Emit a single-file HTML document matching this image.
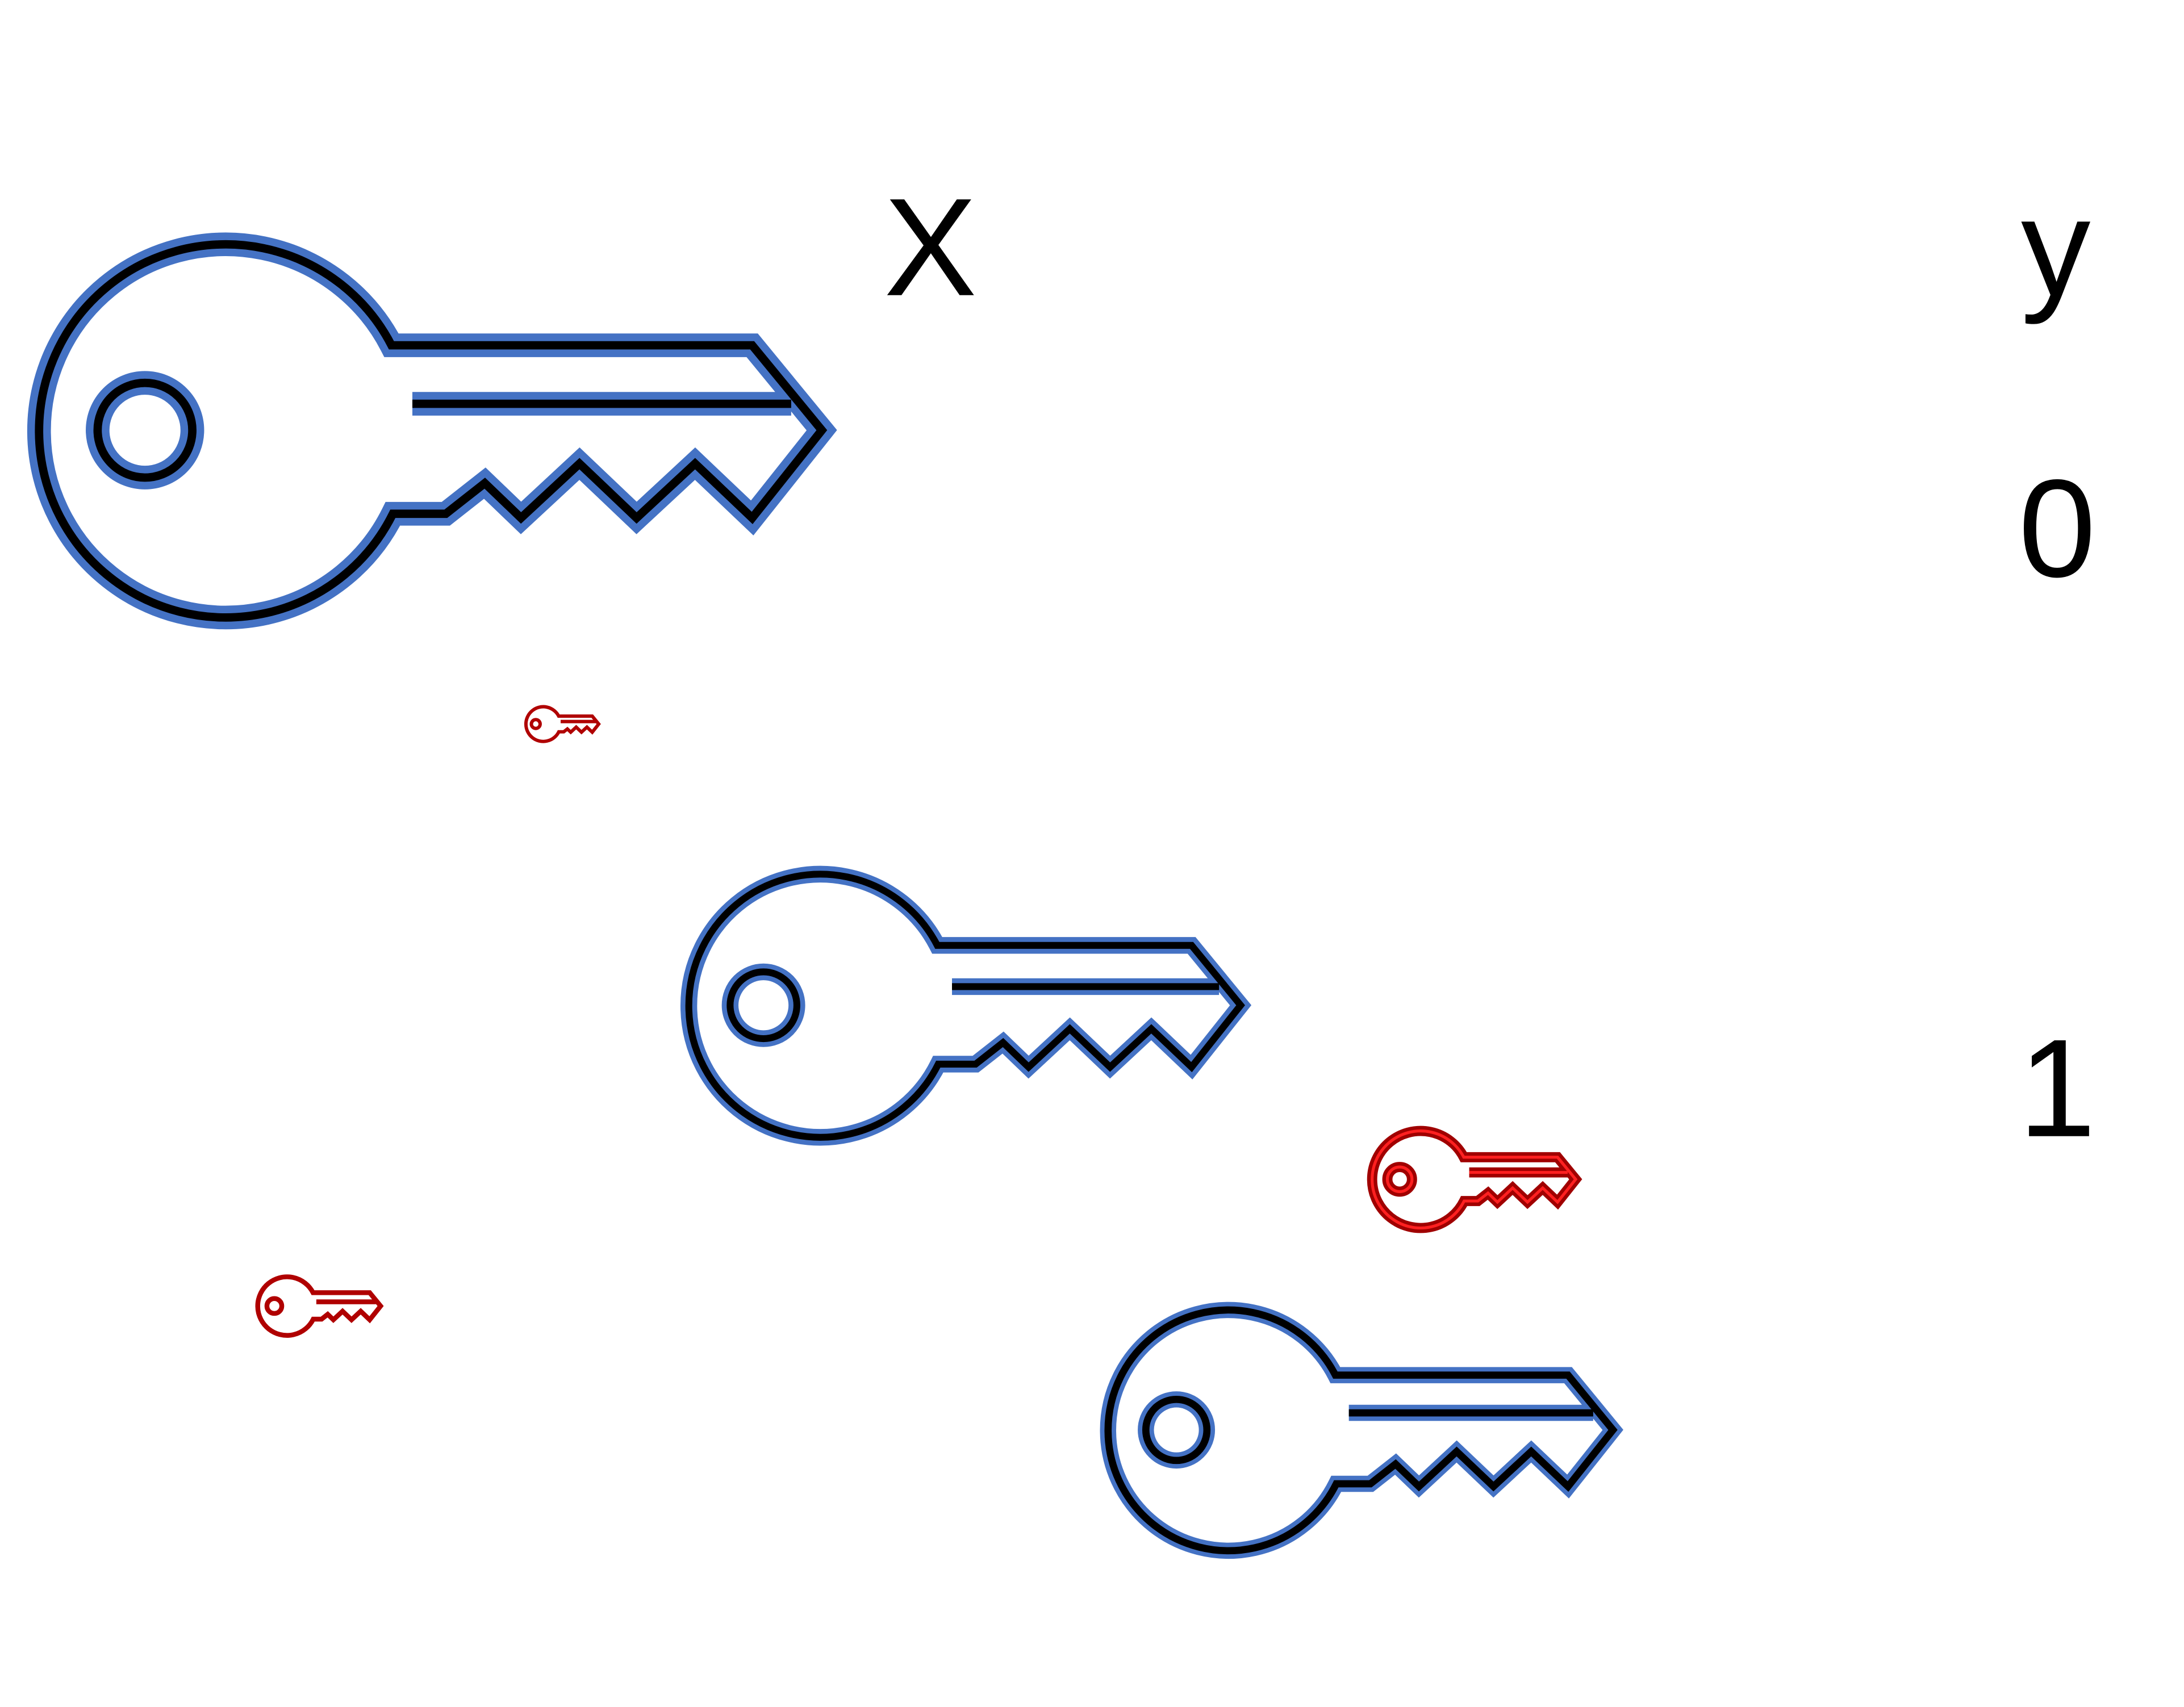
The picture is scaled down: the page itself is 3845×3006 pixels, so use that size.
<!DOCTYPE html>
<html><head><meta charset="utf-8"><style>
html,body{margin:0;padding:0;background:#fff;}
svg{display:block;}
text{font-family:"Liberation Sans", Arial, sans-serif;}
</style></head><body>
<svg width="3845" height="3006" viewBox="0 0 1568 1226" xmlns="http://www.w3.org/2000/svg">
<defs>
<g id="kshape">
<path d="M281,248 L540,248 L590,309 L540,372 L499,333 L457,372 L416,333 L374,372 L348,347 L320,369 L282,369 A134,134 0 1 1 281,248 Z"/>
<path d="M296,290 L568,290"/>
<circle cx="104" cy="309" r="34"/>
</g>
</defs>
<g fill="none" stroke-linejoin="miter">
<g stroke="#4472C4" stroke-width="17"><use href="#kshape"/></g>
<g stroke="#000" stroke-width="6"><use href="#kshape"/></g>
<g transform="translate(589,722) scale(0.705) translate(-162,-309)">
<g stroke="#4472C4" stroke-width="17"><use href="#kshape"/></g>
<g stroke="#000" stroke-width="7"><use href="#kshape"/></g>
</g>
<g transform="translate(882,1027) scale(0.645) translate(-162,-309)">
<g stroke="#4472C4" stroke-width="18"><use href="#kshape"/></g>
<g stroke="#000" stroke-width="8"><use href="#kshape"/></g>
</g>
<g transform="translate(1020,847) scale(0.26) translate(-162,-309)">
<g stroke="#A00000" stroke-width="28"><use href="#kshape"/></g>
<g stroke="#FF2020" stroke-width="8"><use href="#kshape"/></g>
</g>
<g transform="translate(206,938) scale(0.157) translate(-162,-309)">
<g stroke="#B00000" stroke-width="22"><use href="#kshape"/></g>
</g>
<g transform="translate(390,520) scale(0.093) translate(-162,-309)">
<g stroke="#B00000" stroke-width="26"><use href="#kshape"/></g>
</g>
</g>
<g font-size="100" fill="#000" text-anchor="middle">
<text x="668" y="212">X</text>
<text x="1476" y="212">y</text>
<text x="1477" y="414">0</text>
<text x="1477" y="816">1</text>
</g>
</svg>
</body></html>
